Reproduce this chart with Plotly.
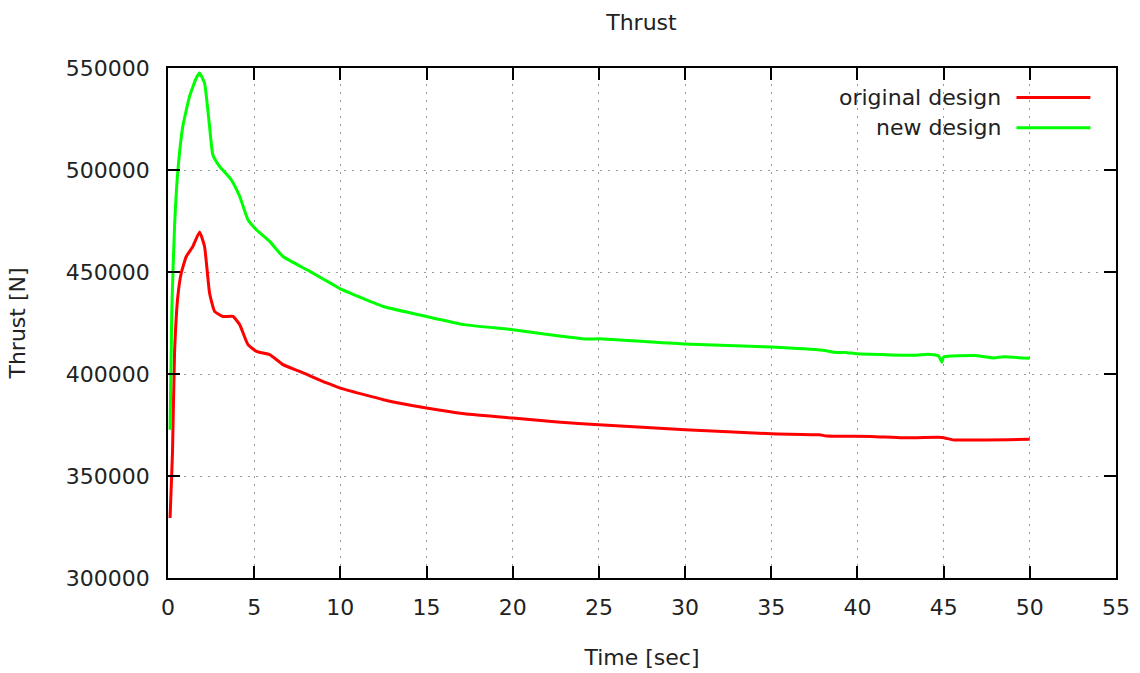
import plotly.graph_objects as go

# Time samples (s) and thrust (N) for the original design
orig_time = [0.12, 0.26, 0.38, 0.57, 0.77, 1.06, 1.44, 1.83, 2.12, 2.41, 2.7, 3.19, 3.77,
             4.16, 4.64, 5.13, 5.9, 6.67, 7.64, 9.2, 10, 12.5, 15, 17.2, 20, 22.6, 25,
             30, 35, 37.8, 38.2, 40.8, 42.6, 44.9, 45.6, 50]
orig_thrust = [329400, 361300, 410300, 438000, 449500, 457600, 462500, 469600, 462500,
               439700, 430700, 428200, 428200, 424200, 414400, 411100, 409500, 404600,
               401300, 395600, 393100, 387400, 383300, 380500, 378400, 376500, 375100,
               372700, 370700, 370200, 369600, 369400, 368700, 368900, 367700, 368000]

# Time samples (s) and thrust (N) for the new design
new_time = [0.12, 0.22, 0.38, 0.57, 0.86, 1.25, 1.64, 1.83, 2.12, 2.41, 2.6, 2.99, 3.67,
            4.16, 4.64, 5.13, 5.9, 6.67, 8.23, 9.58, 10, 12.5, 15, 17.2, 20, 22.6, 24.4,
            25, 30, 35, 38, 38.8, 39.3, 40, 43.3, 44.1, 44.7, 44.9, 45.0, 46.8, 47.9,
            48.5, 50]
new_thrust = [372700, 431600, 472400, 499300, 521400, 536100, 545100, 547500, 542600,
              521400, 507500, 501800, 495200, 487100, 475600, 470700, 465000, 457600,
              450300, 443800, 441700, 433100, 428200, 424200, 421700, 418800, 417100,
              417300, 414700, 413200, 411600, 410500, 410600, 409900, 409200, 409700,
              408900, 405800, 408400, 409100, 407900, 408400, 407700]

series_names = ["original design", "new design"]
series_colors = ["#ff0000", "#00ff00"]

x_ticks = list(range(0, 56, 5))
y_ticks = list(range(300000, 550001, 50000))

FONT = "DejaVu Sans"
FS = 22
TXT = "#222222"

fig = go.Figure()
for name, t, v, c in zip(series_names, [orig_time, new_time], [orig_thrust, new_thrust], series_colors):
    fig.add_trace(go.Scatter(x=t, y=v, mode="lines", name=name,
                             line=dict(color=c, width=3, shape="spline", smoothing=0.4),
                             showlegend=False))

axis_common = dict(
    showline=True, linecolor="black", linewidth=1.5, mirror="ticks",
    ticks="inside", ticklen=12, tickwidth=1.5, tickcolor="black",
    showgrid=True, gridcolor="#999999", gridwidth=1, griddash="2px,6px",
    zeroline=False, automargin=False,
    tickfont=dict(family=FONT, size=FS, color=TXT),
)

fig.update_layout(
    width=1140, height=673,
    margin=dict(l=168, r=24, t=68, b=95),
    paper_bgcolor="white", plot_bgcolor="white",
    title=dict(text="Thrust", x=0.5627, xanchor="center", y=0.967, yanchor="middle",
               font=dict(family=FONT, size=FS, color=TXT)),
    xaxis=dict(range=[0, 55], tickvals=x_ticks, ticklabelstandoff=9,
               title=dict(text="Time [sec]", standoff=30,
                          font=dict(family=FONT, size=FS, color=TXT)),
               **axis_common),
    yaxis=dict(range=[300000, 550000], tickvals=y_ticks, ticklabelstandoff=12,
               tickformat="d",
               title=dict(text="Thrust [N]", standoff=34,
                          font=dict(family=FONT, size=FS, color=TXT)),
               **axis_common),
)

# Legend drawn in the gnuplot style: label right-aligned, line sample to its right
legend_rows = [0.942, 0.883]
for name, c, yy in zip(series_names, series_colors, legend_rows):
    fig.add_annotation(text=name, xref="paper", yref="paper", x=0.881, y=yy,
                       xanchor="right", yanchor="middle", showarrow=False,
                       font=dict(family=FONT, size=FS, color=TXT))
    fig.add_shape(type="line", xref="paper", yref="paper", x0=0.895, x1=0.973,
                  y0=yy, y1=yy, line=dict(color=c, width=3))

fig.write_html("out.html")
